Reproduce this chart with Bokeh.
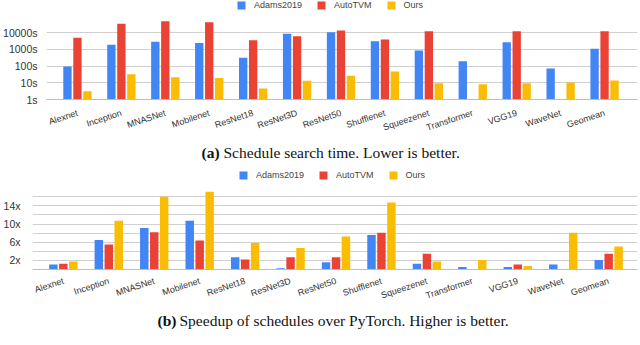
import numpy as np
from bokeh.plotting import figure
from bokeh.layouts import column
from bokeh.models import (Range1d, FixedTicker, PrintfTickFormatter, Legend, LegendItem,
                          ColumnDataSource)
from bokeh.transform import dodge
from bokeh.core.properties import value
from bokeh.embed import file_html
from bokeh.resources import INLINE

nan = float("nan")

models = ["Alexnet", "Inception", "MNASNet", "Mobilenet", "ResNet18", "ResNet3D", "ResNet50",
          "Shufflenet", "Squeezenet", "Transformer", "VGG19", "WaveNet", "Geomean"]
series = ["Adams2019", "AutoTVM", "Ours"]
colors = ["#4285F4", "#EA4335", "#FBBC04"]

# (a) schedule search time, seconds (log scale)
search_adams = [93, 1850, 2770, 2400, 310, 8400, 10400, 3000, 850, 195, 2650, 71, 1060]
search_autotvm = [4800, 33000, 47000, 41000, 3500, 6000, 13000, 3800, 12000, nan, 12000, nan, 12000]
search_ours = [3.1, 32, 21, 19, 4.5, 13, 26, 47, 9.4, 8.2, 9.4, 10.3, 13.6]
search_ticks = [1, 10, 100, 1000, 10000]

# (b) speedup over PyTorch
speed_adams = [1.1, 6.5, 9.1, 10.7, 2.7, 0.3, 1.6, 7.6, 1.25, 0.53, 0.53, 1.1, 2.07]
speed_autotvm = [1.25, 5.5, 8.2, 6.4, 2.2, 2.7, 2.7, 8.1, 3.45, nan, 1.1, nan, 3.45]
speed_ours = [1.76, 10.7, 16.0, 17.1, 5.8, 4.7, 7.25, 14.7, 1.76, 2.07, 0.75, 8.1, 5.05]
speed_ticks = [2, 6, 10, 14]
speed_grid = [0, 2, 4, 6, 8, 10, 12, 14, 16]

caption_a = ("(a)", "Schedule search time. Lower is better.")
caption_b = ("(b)", "Speedup of schedules over PyTorch. Higher is better.")

SANS = "Liberation Sans"
SERIF = "Liberation Serif"
W = 640
idx = list(range(len(models)))


def style_chart(p, label_size, standoff):
    p.outline_line_color = None
    p.xgrid.grid_line_color = None
    p.ygrid.grid_line_color = "#d0d0d0"
    p.ygrid.grid_line_width = 1
    p.xaxis.ticker = FixedTicker(ticks=idx)
    p.xaxis.major_label_overrides = {i: m for i, m in enumerate(models)}
    p.xaxis.major_label_orientation = 0.32
    p.xaxis.major_label_text_font = SANS
    p.xaxis.major_label_text_font_size = "9px"
    p.xaxis.major_label_text_color = "#333333"
    p.xaxis.major_label_standoff = standoff
    p.xaxis.major_tick_line_color = None
    p.xaxis.minor_tick_line_color = None
    p.xaxis.axis_line_color = "#bdbdbd"
    p.yaxis.axis_line_color = None
    p.yaxis.major_tick_line_color = None
    p.yaxis.minor_tick_line_color = None
    p.yaxis.major_label_text_font = SANS
    p.yaxis.major_label_text_font_size = label_size
    p.yaxis.major_label_text_color = "#333333"


def add_bars(p, src, cols, bottom, off, width, vx, vy):
    items = []
    for k, (c, name, col) in enumerate(zip(cols, series, colors)):
        r = p.vbar(x=dodge("x", (k - 1) * off, range=p.x_range), top=c, bottom=bottom,
                   width=width, source=src, fill_color=col, line_color=None)
        items.append(LegendItem(label=name, renderers=[r]))
    leg = Legend(items=items, location=(vx, vy), orientation="horizontal",
                 glyph_width=10, glyph_height=10, label_height=10, label_standoff=8,
                 spacing=14, padding=0, margin=0, border_line_color=None,
                 background_fill_alpha=0, label_text_font=SANS,
                 label_text_font_size="9px", label_text_color="#444444")
    p.add_layout(leg)


def caption_fig(h, y, x0, x1, parts):
    c = figure(width=W, height=h, output_backend="svg", toolbar_location=None,
               x_range=Range1d(0, W), y_range=Range1d(0, h), x_axis_type=None,
               y_axis_type=None, min_border=0, min_border_left=0, min_border_right=0,
               min_border_top=0, min_border_bottom=0, frame_align=False)
    c.outline_line_color = None
    c.grid.visible = False
    c.text(x=[x0], y=[y], text=[parts[0]], text_font=value(SERIF), text_font_style="bold",
           text_font_size="15.5px", text_baseline="middle", text_align="left",
           text_color="#111111")
    c.text(x=[x1], y=[y], text=[parts[1]], text_font=value(SERIF),
           text_font_size="15.5px", text_baseline="middle", text_align="left",
           text_color="#111111")
    return c


# ---------- chart (a) ----------
src_a = ColumnDataSource(dict(x=idx, adams=search_adams, autotvm=search_autotvm, ours=search_ours))
pa = figure(width=W, height=144, output_backend="svg", toolbar_location=None,
            y_axis_type="log", frame_align=False,
            x_range=Range1d((45 - 76) / 44, (637 - 76) / 44),
            y_range=Range1d(1, 10 ** (4 + 32 / 16.75)),
            min_border_left=45, min_border_right=3, min_border_top=0, min_border_bottom=45)
style_chart(pa, "10.5px", 7)
pa.yaxis.ticker = FixedTicker(ticks=search_ticks)
pa.ygrid.ticker = FixedTicker(ticks=search_ticks)
pa.yaxis.formatter = PrintfTickFormatter(format="%ds")
pa.yaxis.major_label_standoff = 3
add_bars(pa, src_a, ["adams", "autotvm", "ours"], 1, 0.227, 0.19, 190, 89)

# ---------- caption (a) ----------
ca = caption_fig(24, 16, 201, 223, caption_a)

# ---------- chart (b) ----------
src_b = ColumnDataSource(dict(x=idx, adams=speed_adams, autotvm=speed_autotvm, ours=speed_ours))
pb = figure(width=W, height=145, output_backend="svg", toolbar_location=None,
            frame_align=False,
            x_range=Range1d((29 - 60) / 45.67, (637 - 60) / 45.67),
            y_range=Range1d(0, 101 / 4.55),
            min_border_left=29, min_border_right=3, min_border_top=0, min_border_bottom=44)
style_chart(pb, "10.5px", 5)
pb.yaxis.ticker = FixedTicker(ticks=speed_ticks)
pb.ygrid.ticker = FixedTicker(ticks=speed_grid)
pb.yaxis.formatter = PrintfTickFormatter(format="%dx")
pb.yaxis.major_label_standoff = 6
add_bars(pb, src_b, ["adams", "autotvm", "ours"], 0, 0.219, 0.186, 206, 89)

# ---------- caption (b) ----------
cb = caption_fig(32, 25, 157, 179, caption_b)

layout = column(pa, ca, pb, cb)
open("out.html", "w").write(file_html(layout, INLINE))
